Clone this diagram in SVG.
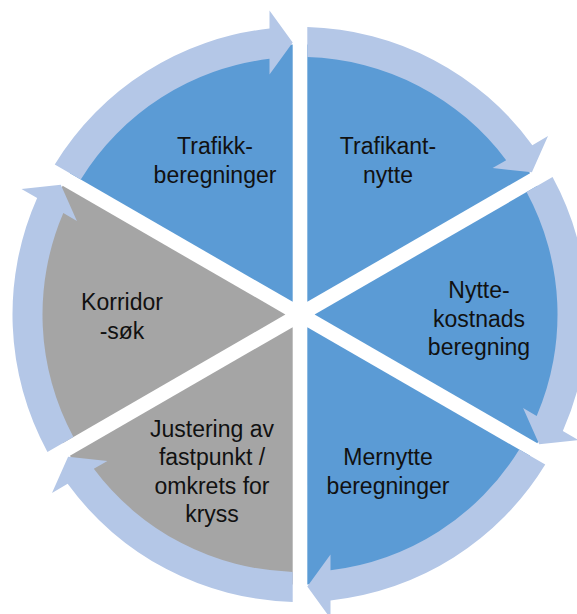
<svg xmlns="http://www.w3.org/2000/svg" width="577" height="614" viewBox="0 0 577 614">
<style>
.blue{fill:#5B9BD5}
.gray{fill:#A5A5A5}
.arrow{fill:#B4C7E7}
text{font-family:"Liberation Sans",Arial,sans-serif;font-size:23px;fill:#111;text-anchor:middle}
</style>
<rect width="577" height="614" fill="#fff"/>
<g id="trafikant-nytte">
<path class="blue" d="M307.3,301.86 L307.31,44.6 A270,270 0 0 1 530.08,173.23 Z"/>
<text x="388" y="153.5">Trafikant-</text>
<text x="388" y="182.5">nytte</text>
</g>
<g id="nyttekostnads">
<path class="blue" d="M314.6,314.5 L537.38,185.87 A270,270 0 0 1 537.38,443.13 Z"/>
<text x="479" y="298">Nytte-</text>
<text x="479" y="326.5">kostnads</text>
<text x="479" y="355">beregning</text>
</g>
<g id="mernytte">
<path class="blue" d="M307.3,327.14 L530.08,455.77 A270,270 0 0 1 307.3,584.4 Z"/>
<text x="388" y="465">Mernytte</text>
<text x="388" y="493.5">beregninger</text>
</g>
<g id="justering">
<path class="gray" d="M292.7,327.14 L292.7,584.4 A270,270 0 0 1 69.92,455.77 Z"/>
<text x="212" y="436.5">Justering av</text>
<text x="212" y="465">fastpunkt /</text>
<text x="212" y="493.5">omkrets for</text>
<text x="212" y="522">kryss</text>
</g>
<g id="korridor">
<path class="gray" d="M285.4,314.5 L62.62,443.13 A270,270 0 0 1 62.62,185.87 Z"/>
<text x="122" y="309.5">Korridor</text>
<text x="122" y="338.5">-søk</text>
</g>
<g id="trafikkberegninger">
<path class="blue" d="M292.7,301.86 L69.92,173.23 A270,270 0 0 1 292.7,44.6 Z"/>
<text x="215" y="154">Trafikk-</text>
<text x="215" y="183">beregninger</text>
</g>
<g id="connectors">
<path class="arrow" d="M307.3,27.09 A287.5,287.5 0 0 1 532.34,145.14 L548.01,136.09 L531.9,172.18 L492.59,168.09 L506.19,160.24 A257.5,257.5 0 0 0 307.3,57.1 Z"/>
<path class="arrow" d="M552.55,177.12 A287.5,287.5 0 0 1 562.84,431.04 L578.51,440.09 L539.2,444.18 L523.09,408.09 L536.69,415.94 A257.5,257.5 0 0 0 526.56,192.12 Z"/>
<path class="arrow" d="M545.25,464.53 A287.5,287.5 0 0 1 330.5,600.4 L330.5,618.5 L307.3,586.5 L330.5,554.5 L330.5,570.2 A257.5,257.5 0 0 0 519.26,449.52 Z"/>
<path class="arrow" d="M292.7,601.91 A287.5,287.5 0 0 1 67.66,483.86 L51.99,492.91 L68.1,456.82 L107.41,460.91 L93.81,468.76 A257.5,257.5 0 0 0 292.7,571.9 Z"/>
<path class="arrow" d="M47.45,451.88 A287.5,287.5 0 0 1 37.16,197.96 L21.49,188.91 L60.8,184.82 L76.91,220.91 L63.31,213.06 A257.5,257.5 0 0 0 73.44,436.88 Z"/>
<path class="arrow" d="M54.75,164.47 A287.5,287.5 0 0 1 269.5,28.6 L269.5,10.5 L292.7,42.5 L269.5,74.5 L269.5,58.8 A257.5,257.5 0 0 0 80.74,179.48 Z"/>
</g>
</svg>
